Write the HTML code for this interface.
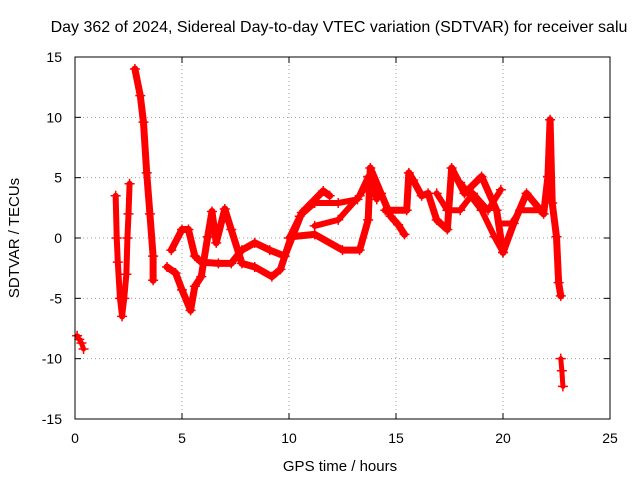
<!DOCTYPE html>
<html><head><meta charset="utf-8"><style>
body{margin:0;background:#fff;}
svg{display:block;font-family:"Liberation Sans",sans-serif;}
</style></head><body>
<svg id="chart" width="640" height="480">
<text x="339" y="32" font-size="16" text-anchor="middle">Day 362 of 2024, Sidereal Day-to-day VTEC variation (SDTVAR) for receiver salu</text>
<text x="340" y="471" font-size="15" text-anchor="middle">GPS time / hours</text>
<text transform="translate(19,238) rotate(-90)" font-size="15" text-anchor="middle">SDTVAR / TECUs</text>
<g id="grid"></g><g id="ticks"></g><g id="marks"></g>
<rect x="75" y="57" width="535" height="362" fill="none" stroke="#000"/>
</svg>
<script>
const xTicks=[0,5,10,15,20,25];
const yTicks=[-15,-10,-5,0,5,10,15];
const segA=[[0.1,-8.1],[0.2,-8.4],[0.3,-8.7],[0.4,-9.2]];
const segB=[[1.9,3.5],[1.95,0],[2.0,-2],[2.1,-5],[2.2,-6.5],[2.3,-5],[2.4,-3],[2.45,0],[2.5,2],[2.55,4.5]];
const segC=[[2.8,14],[3.05,11.8],[3.2,9.6],[3.35,5.4],[3.5,2],[3.65,-1.5],[3.65,-3.5]];
const segD=[[4.3,-2.4],[4.7,-2.9],[5.0,-4.3],[5.4,-6],[5.6,-4],[5.9,-3.2],[6.2,0.1],[6.4,2.2],[6.6,-0.4],[7.0,2.4],[7.3,0.7],[7.8,-2.1],[8.4,-2.4],[9.2,-3.2],[9.6,-2.6],[10.1,0.1],[11.2,0.3],[12.5,-1],[13.3,-1],[13.7,1.5],[13.8,5.8],[14.3,3.7],[14.75,1.8],[15.1,1.1],[15.4,0.3]];
const segE=[[4.5,-1],[5.0,0.7],[5.3,0.7],[5.6,-1.5],[5.9,-2],[6.7,-2.1],[7.3,-2.1],[7.8,-1],[8.4,-0.4],[9.1,-1],[9.8,-1.5],[10.6,2.1],[11.6,3.9],[11.9,3.5]];
const segF=[[10,0],[10.5,1.8],[11.2,2.9],[12.3,2.9],[13.2,3.2],[13.7,5.1],[14.1,3.2]];
const segF2=[[11.2,1],[12.3,1.5],[13.3,3.5],[13.7,4.5]];
const segG=[[14.5,2.3],[15.5,2.3],[15.6,5.4],[15.8,4.8],[16.2,3.5],[16.5,3.7],[16.9,1.5],[17.4,0.7],[17.6,5.8],[18.2,3.7],[19,5.1],[19.7,2.3],[20,-1.2],[20.5,1.2],[21.1,3.7],[21.9,2],[22.1,5.1],[22.2,9.8],[22.3,2.9],[22.5,0.1],[22.6,-3.7],[22.7,-4.8]];
const segH=[[16.9,3.7],[17.4,2.3],[18,2.3],[18.6,3.7],[19.3,2.3],[19.9,4]];
const segI=[[18,4.6],[19,2.3],[19.6,0.1],[20,-1.2]];
const segK=[[19.9,1.2],[20.4,1.2],[20.8,2.3],[21.8,2.3]];
const segJ=[[22.7,-10],[22.75,-11],[22.8,-12.3]];
const series=[segA,segB,segC,segD,segE,segF,segF2,segG,segH,segI,segK,segJ];
const widths=[5,6,7,7,7,6,6,7,6,6,6,5];
const sx=v=>75+v*21.4, sy=v=>238-v*12.067;
const NS="http://www.w3.org/2000/svg";
function mk(tag,attrs,parent){const e=document.createElementNS(NS,tag);for(const k in attrs)e.setAttribute(k,attrs[k]);parent.appendChild(e);return e;}
const grid=document.getElementById('grid'),ticks=document.getElementById('ticks'),marks=document.getElementById('marks');
xTicks.forEach(t=>{
 if(t>0&&t<25){const l=mk('line',{x1:sx(t),x2:sx(t),y1:57,y2:419,stroke:'#a0a0a0','stroke-dasharray':'1,3'},grid);
 
 }
 const tx=mk('text',{x:sx(t),y:443,'font-size':14,'text-anchor':'middle'},ticks);tx.textContent=t;
 
 
 mk('line',{x1:sx(t),x2:sx(t),y1:419,y2:413,stroke:'#000'},ticks);
 mk('line',{x1:sx(t),x2:sx(t),y1:57,y2:63,stroke:'#000'},ticks);
});
yTicks.forEach(t=>{
 if(t>-15&&t<15){const l=mk('line',{x1:75,x2:610,y1:sy(t),y2:sy(t),stroke:'#a0a0a0','stroke-dasharray':'1,3'},grid);
 
 }
 const tx=mk('text',{x:62,y:sy(t)+5,'font-size':14,'text-anchor':'end'},ticks);tx.textContent=t;
 
 
 mk('line',{x1:75,x2:81,y1:sy(t),y2:sy(t),stroke:'#000'},ticks);
 mk('line',{x1:610,x2:604,y1:sy(t),y2:sy(t),stroke:'#000'},ticks);
});
series.forEach((s,i)=>{
 const p=mk('polyline',{points:s.map(d=>sx(d[0])+','+sy(d[1])).join(' '),fill:'none',stroke:'#ff0000','stroke-width':widths[i],'stroke-linejoin':'round','stroke-linecap':'round'},marks);
 
 
 s.forEach(d=>{const x=sx(d[0]),y=sy(d[1]);
  const m=mk('path',{d:`M${x-5},${y}H${x+5}M${x},${y-5}V${y+5}`,stroke:'#ff0000','stroke-width':1.5},marks);
  
  });
});
</script>
</body></html>
